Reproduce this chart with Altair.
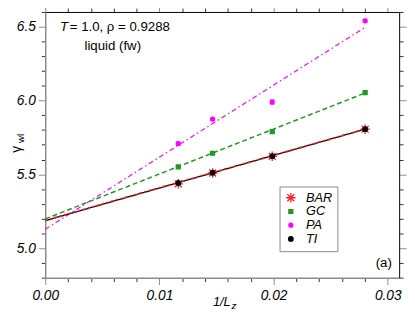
import altair as alt
import pandas as pd

# ---- data ----
series = ["BAR", "GC", "PA", "TI"]
x_vals = [0.01165, 0.01466, 0.01988, 0.02802]
bar_y = [5.436, 5.509, 5.622, 5.806]
gc_y = [5.551, 5.643, 5.789, 6.053]
pa_y = [5.709, 5.874, 5.990, 6.540]
pa_err = [0.012, 0.008, 0.015, 0.010]
ti_y = [5.441, 5.511, 5.623, 5.806]

fit_x = [0.0, 0.02802]
fit_bar = [5.188, 5.806]
fit_gc = [5.198, 6.051]
fit_pa = [5.128, 6.496]
fit_ti = [5.186, 5.806]

x_tick_values = [0.000, 0.002, 0.004, 0.006, 0.008, 0.010, 0.012, 0.014, 0.016,
                 0.018, 0.020, 0.022, 0.024, 0.026, 0.028, 0.030]
y_tick_values = [4.8, 4.9, 5.0, 5.1, 5.2, 5.3, 5.4, 5.5, 5.6, 5.7, 5.8, 5.9,
                 6.0, 6.1, 6.2, 6.3, 6.4, 6.5, 6.6]

colors = ["#ff2020", "#1f9a1f", "#ff00ff", "#000000"]
asterisk = "M-1,0L1,0M0,-1L0,1M-0.72,-0.72L0.72,0.72M-0.72,0.72L0.72,-0.72"
shapes = [asterisk, "square", "circle", "circle"]
sizes = [95, 16, 16, 22]

# ---- tables ----
rows = []
for s, ys in zip(series, [bar_y, gc_y, pa_y, ti_y]):
    for x, y in zip(x_vals, ys):
        rows.append({"series": s, "x": x, "y": y})
pts = pd.DataFrame(rows)

pa = pd.DataFrame({"x": x_vals, "y": pa_y, "err": pa_err})

frows = []
for s, ys in zip(series, [fit_bar, fit_gc, fit_pa, fit_ti]):
    for x, y in zip(fit_x, ys):
        frows.append({"series": s, "x": x, "y": y})
fits = pd.DataFrame(frows)

one = pd.DataFrame({"k": [0]})

XS = alt.Scale(domain=[0, 0.031], nice=False, zero=False)
YS = alt.Scale(domain=[4.8, 6.6], nice=False, zero=False)

xmaj = "abs(datum.value*100 - round(datum.value*100)) < 1e-6"
ymaj = "abs(datum.value*2 - round(datum.value*2)) < 1e-6"
FONT = "Liberation Sans"
GRAY = "#8c8c8c"

x_axis_bottom = alt.Axis(
    orient="bottom", values=x_tick_values, title=None, grid=False,
    labelExpr=f"{xmaj} ? format(datum.value, '.2f') : ''",
    tickSize={"condition": {"test": xmaj, "value": 7}, "value": 4},
    tickColor={"condition": {"test": xmaj, "value": GRAY}, "value": "#333333"},
    domainColor=GRAY, domainWidth=1.5, labelFont=FONT, labelFontSize=14,
    labelFontStyle="italic", labelColor="#000", labelPadding=4,
    labelOverlap=False, labelFlush=False)
y_axis_left = alt.Axis(
    orient="left", values=y_tick_values, title=None, grid=False,
    labelExpr=f"{ymaj} ? format(datum.value, '.1f') : ''",
    tickSize={"condition": {"test": ymaj, "value": 7}, "value": 4},
    tickColor={"condition": {"test": ymaj, "value": GRAY}, "value": "#333333"},
    domainColor=GRAY, domainWidth=1.5, labelFont=FONT, labelFontSize=14,
    labelFontStyle="italic", labelColor="#000", labelPadding=3,
    labelOverlap=False, labelFlush=False)
x_axis_top = alt.Axis(
    orient="top", values=x_tick_values, title=None, grid=False, labels=False,
    tickSize={"condition": {"test": xmaj, "value": 7}, "value": 4},
    tickColor={"condition": {"test": xmaj, "value": GRAY}, "value": "#333333"},
    domainColor="#000", domainWidth=1)
y_axis_right = alt.Axis(
    orient="right", values=y_tick_values, title=None, grid=False, labels=False,
    tickSize={"condition": {"test": ymaj, "value": 7}, "value": 4},
    tickColor={"condition": {"test": ymaj, "value": GRAY}, "value": "#333333"},
    domainColor="#000", domainWidth=1)

def line_layer(name, color, dash, width):
    return alt.Chart(fits).transform_filter(alt.datum.series == name).mark_line(
        color=color, strokeDash=dash, strokeWidth=width).encode(
        x=alt.X("x:Q", scale=XS, axis=None),
        y=alt.Y("y:Q", scale=YS, axis=None))

l_pa = line_layer("PA", "#ff00ff", [5, 3, 1.5, 3], 1.2)
l_gc = line_layer("GC", "#1f9a1f", [5, 3], 1.5)
l_ti = line_layer("TI", "#000000", [1, 0], 1.3)
l_bar = line_layer("BAR", "#ff2020", [2, 3], 2)

err_base = alt.Chart(pa).transform_calculate(
    lo="datum.y - datum.err", hi="datum.y + datum.err")
err_rule = err_base.mark_rule(color="#ff00ff", strokeWidth=1).encode(
    x=alt.X("x:Q", scale=XS, axis=None),
    y=alt.Y("lo:Q", scale=YS, axis=None), y2="hi:Q")
cap_lo = err_base.mark_tick(color="#ff00ff", orient="horizontal", size=5, thickness=1).encode(
    x=alt.X("x:Q", scale=XS, axis=None), y=alt.Y("lo:Q", scale=YS, axis=None))
cap_hi = err_base.mark_tick(color="#ff00ff", orient="horizontal", size=5, thickness=1).encode(
    x=alt.X("x:Q", scale=XS, axis=None), y=alt.Y("hi:Q", scale=YS, axis=None))

leg = alt.Legend(title=None, orient="none", legendX=239, legendY=178,
                 strokeColor="#888888", padding=5, labelFont=FONT,
                 labelFontSize=13, labelFontStyle="italic", labelColor="#000",
                 labelOffset=9, rowPadding=0, symbolStrokeWidth=1.3)

points = alt.Chart(pts).mark_point(strokeWidth=1.3, opacity=1).encode(
    x=alt.X("x:Q", scale=XS, axis=x_axis_bottom),
    y=alt.Y("y:Q", scale=YS, axis=y_axis_left),
    fill=alt.Fill("series:N", scale=alt.Scale(domain=series, range=colors), legend=leg),
    stroke=alt.Stroke("series:N", scale=alt.Scale(domain=series, range=colors), legend=leg),
    shape=alt.Shape("series:N", scale=alt.Scale(domain=series, range=shapes), legend=leg),
    size=alt.Size("series:N", scale=alt.Scale(type="ordinal", domain=series, range=sizes), legend=leg),
    order=alt.Order("series:N", sort="ascending"),
)

mirror = alt.Chart(pts).mark_point(opacity=0).encode(
    x=alt.X("x:Q", scale=XS, axis=x_axis_top),
    y=alt.Y("y:Q", scale=YS, axis=y_axis_right))

def txt(s, x, y, size=13.5, style="normal", align="left", angle=0):
    return alt.Chart(one).mark_text(
        text=s, font=FONT, fontSize=size, fontStyle=style, align=align,
        baseline="alphabetic", angle=angle, color="#000").encode(
        x=alt.value(x), y=alt.value(y))

texts = [
    txt("T", 15, 19, style="italic"),
    txt("= 1.0, ρ = 0.9288", 25, 19),
    txt("liquid (fw)", 40, 39),
    txt("(a)", 337, 260),
    txt("1/L", 171, 300, size=13, style="italic"),
    txt("z", 190, 303, size=10, style="italic"),
    txt("γ", -25, 140, size=14, align="center", angle=270),
    txt("wl", -22, 129, size=10, align="center", angle=270),
]

chart = alt.layer(
    mirror, l_pa, l_gc, l_ti, l_bar, err_rule, cap_lo, cap_hi, points, *texts
).resolve_axis(x="independent", y="independent").properties(
    width=361, height=271, autosize="none",
    padding={"left": 38, "top": 1, "right": 8, "bottom": 33},
).configure_view(stroke=None)

chart.save("out.html", embed_options={"renderer": "svg", "actions": False})
